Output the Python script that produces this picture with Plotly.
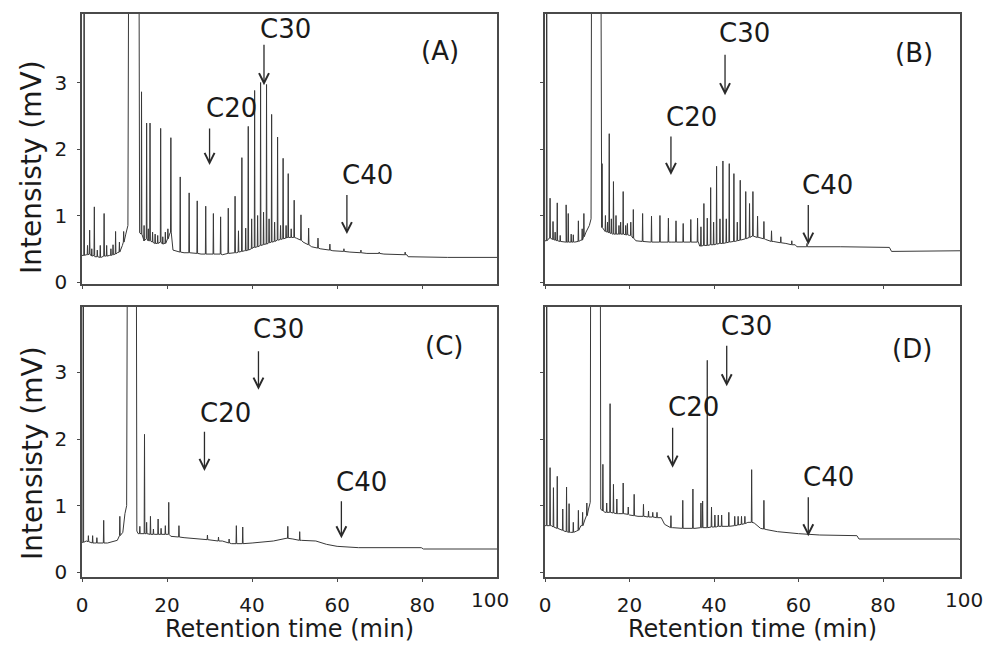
import plotly.graph_objects as go

# ---------------- data ----------------
# Panel A
A_base_t = [0.0, 1.0, 3.0, 4.5, 6.5, 8.3, 9.5, 10.3, 10.8, 11.1, 13.3, 13.55, 14.5, 17.0, 19.3, 20.6, 21.4, 24.0, 28.0, 33.0, 36.4, 38.2, 40.2, 43.0, 46.2, 48.2, 50.4, 52.0, 54.0, 56.0, 59.0, 63.0, 67.0, 71.0, 76.4, 76.7, 86.0, 98.5]
A_base_v = [0.40, 0.41, 0.38, 0.37, 0.40, 0.44, 0.55, 0.72, 0.85, 8.0, 8.0, 0.74, 0.64, 0.58, 0.58, 0.72, 0.48, 0.44, 0.42, 0.41, 0.44, 0.47, 0.52, 0.57, 0.63, 0.67, 0.66, 0.60, 0.53, 0.50, 0.47, 0.45, 0.43, 0.42, 0.41, 0.38, 0.37, 0.37]
A_peak_t = [0.5, 1.3, 1.8, 2.3, 2.9, 3.6, 4.3, 5.2, 5.8, 6.8, 7.3, 7.9, 8.8, 9.8,
            14.0, 14.6, 15.2, 15.6, 16.0, 16.6, 17.2, 17.8, 18.5, 19.0, 19.6, 20.2, 20.9,
            23.1, 25.2, 27.1, 29.1, 30.9, 32.6, 34.4, 36.0, 36.8, 37.6, 38.5, 39.1, 39.9,
            40.6, 41.3, 42.0, 42.7, 43.4, 44.0, 44.6, 45.3, 46.0, 46.7, 47.3, 48.0, 48.5,
            49.2, 49.9, 51.5, 53.3, 55.5, 58.3, 61.6, 65.6, 69.9, 76.0]
A_peak_top = [8.0, 0.55, 0.78, 0.50, 1.13, 0.48, 0.55, 1.03, 0.55, 0.50, 0.56, 0.76, 0.60, 0.76,
              2.86, 0.85, 2.39, 0.80, 2.39, 0.75, 0.72, 0.70, 2.31, 0.68, 0.75, 0.80, 2.17,
              1.58, 1.34, 1.22, 1.14, 1.03, 0.98, 1.11, 1.29, 0.77, 1.87, 0.81, 2.34, 0.95,
              2.88, 1.00, 3.00, 1.05, 2.97, 0.95, 2.52, 0.90, 2.18, 0.85, 1.86, 0.85, 1.63,
              0.80, 1.23, 1.01, 0.81, 0.66, 0.57, 0.50, 0.48, 0.45, 0.45]
A_peak_foot = [0.40, 0.41, 0.42, 0.39, 0.40, 0.38, 0.37, 0.39, 0.39, 0.40, 0.41, 0.42, 0.45, 0.60,
               0.72, 0.62, 0.65, 0.62, 0.62, 0.60, 0.58, 0.58, 0.60, 0.57, 0.58, 0.65, 0.75,
               0.45, 0.44, 0.43, 0.42, 0.42, 0.42, 0.43, 0.44, 0.45, 0.46, 0.47, 0.48, 0.50,
               0.52, 0.53, 0.55, 0.56, 0.57, 0.59, 0.60, 0.61, 0.63, 0.64, 0.65, 0.66, 0.67,
               0.67, 0.67, 0.63, 0.56, 0.51, 0.48, 0.46, 0.44, 0.43, 0.41]

# Panel B
B_base_t = [0.0, 1.0, 3.0, 5.0, 7.0, 8.5, 9.7, 10.5, 10.9, 11.1, 13.1, 13.3, 14.0, 16.0, 18.0, 20.0, 21.5, 25.0, 30.0, 36.3, 36.6, 40.0, 45.0, 49.0, 50.6, 52.2, 54.0, 57.0, 59.2, 59.6, 70.0, 81.5, 82.0, 98.5]
B_base_v = [0.62, 0.66, 0.62, 0.60, 0.60, 0.63, 0.75, 0.85, 0.95, 8.0, 8.0, 0.85, 0.78, 0.72, 0.72, 0.70, 0.62, 0.60, 0.60, 0.60, 0.54, 0.56, 0.61, 0.69, 0.67, 0.64, 0.61, 0.58, 0.56, 0.53, 0.53, 0.52, 0.46, 0.47]
B_peak_t = [0.4, 1.2, 1.9, 2.4, 2.9, 3.6, 5.0, 5.5, 6.2, 6.7, 7.9, 8.8, 9.2,
            13.5, 14.3, 14.8, 15.2, 15.7, 16.2, 16.8, 17.5, 17.9, 18.5, 19.1, 19.5, 20.3, 20.9,
            23.1, 25.2, 27.2, 29.2, 31.0, 32.7, 34.5, 36.1, 36.9, 37.6, 38.4, 39.2, 39.9,
            40.6, 41.4, 42.1, 42.9, 43.6, 44.7, 45.5, 46.2, 47.5, 48.4, 49.2, 50.3, 51.8,
            53.6, 55.8, 58.4, 62.0]
B_peak_top = [8.0, 1.26, 0.91, 0.75, 1.19, 0.70, 1.16, 1.03, 0.72, 0.71, 0.92, 0.80, 1.03,
              1.78, 1.00, 0.90, 2.23, 0.95, 1.51, 1.00, 0.85, 0.90, 1.36, 0.85, 0.88, 0.90, 1.09,
              1.03, 0.99, 1.00, 0.96, 0.92, 0.88, 0.94, 0.96, 0.83, 1.18, 0.96, 1.42, 0.90,
              1.74, 0.95, 1.82, 0.95, 1.78, 1.63, 0.90, 1.53, 1.36, 1.18, 1.36, 0.99, 0.91,
              0.77, 0.68, 0.62, 0.58]
B_peak_foot = [0.62, 0.66, 0.64, 0.63, 0.62, 0.61, 0.60, 0.60, 0.60, 0.60, 0.61, 0.63, 0.68,
               0.82, 0.76, 0.75, 0.74, 0.73, 0.72, 0.72, 0.72, 0.72, 0.72, 0.71, 0.71, 0.70, 0.66,
               0.61, 0.60, 0.60, 0.60, 0.60, 0.60, 0.60, 0.60, 0.54, 0.55, 0.55, 0.56, 0.56,
               0.57, 0.58, 0.58, 0.59, 0.60, 0.61, 0.62, 0.63, 0.65, 0.67, 0.69, 0.67, 0.65,
               0.61, 0.59, 0.56, 0.53]

# Panel C
C_base_t = [0.0, 1.0, 3.0, 6.0, 8.3, 9.6, 10.1, 10.5, 10.8, 12.7, 12.9, 13.2, 17.0, 20.0, 20.9, 24.0, 28.0, 33.0, 35.2, 40.0, 45.0, 48.0, 49.6, 51.6, 55.0, 57.5, 60.0, 65.0, 79.8, 80.3, 98.5]
C_base_v = [0.45, 0.47, 0.44, 0.44, 0.48, 0.60, 0.88, 1.00, 8.0, 8.0, 0.62, 0.58, 0.57, 0.57, 0.54, 0.52, 0.50, 0.47, 0.43, 0.44, 0.47, 0.51, 0.50, 0.48, 0.47, 0.42, 0.39, 0.37, 0.37, 0.35, 0.35]
C_peak_t = [0.3, 1.5, 2.5, 3.5, 5.1, 8.9, 13.6, 14.7, 15.2, 16.1, 16.8, 17.9, 18.6, 19.6, 20.4,
            22.8, 29.5, 32.1, 34.6, 36.3, 37.8, 48.4, 51.2]
C_peak_top = [8.0, 0.55, 0.55, 0.52, 0.78, 0.84, 0.69, 2.07, 0.75, 0.84, 0.65, 0.80, 0.66, 0.70, 1.05,
              0.70, 0.56, 0.53, 0.50, 0.70, 0.68, 0.69, 0.61]
C_peak_foot = [0.45, 0.46, 0.44, 0.44, 0.44, 0.55, 0.58, 0.58, 0.58, 0.57, 0.57, 0.57, 0.57, 0.57, 0.57,
               0.53, 0.49, 0.47, 0.44, 0.43, 0.43, 0.51, 0.48]

# Panel D
D_base_t = [0.0, 1.5, 3.0, 4.5, 6.0, 7.5, 8.5, 9.5, 10.3, 10.7, 10.9, 13.0, 13.2, 14.2, 17.4, 20.0, 22.0, 27.5, 28.3, 30.2, 35.5, 40.5, 45.0, 48.0, 49.5, 51.0, 52.5, 55.0, 60.0, 65.0, 73.8, 74.3, 98.0, 98.5]
D_base_v = [0.70, 0.70, 0.66, 0.62, 0.60, 0.62, 0.70, 0.80, 0.95, 1.05, 8.0, 8.0, 0.95, 0.90, 0.88, 0.86, 0.84, 0.82, 0.72, 0.67, 0.66, 0.68, 0.70, 0.75, 0.74, 0.66, 0.64, 0.61, 0.58, 0.56, 0.55, 0.50, 0.50, 0.47]
D_peak_t = [0.4, 1.2, 2.0, 2.9, 4.2, 5.1, 5.7, 6.7, 7.9, 8.9, 9.9,
            13.7, 14.6, 15.4, 16.2, 17.0, 18.5, 19.7, 21.1, 23.3, 24.5, 25.5, 26.5,
            29.8, 32.6, 35.0, 36.9, 37.3, 38.4, 39.4, 40.2, 41.0, 41.8, 43.5, 44.9, 45.7,
            46.5, 47.3, 48.9, 51.8]
D_peak_top = [8.0, 1.57, 1.27, 1.44, 0.95, 1.28, 1.03, 0.75, 0.93, 0.90, 1.04,
              1.62, 1.04, 2.53, 1.32, 1.10, 1.34, 0.98, 1.17, 1.02, 0.92, 0.90, 0.90,
              0.85, 1.08, 1.25, 1.04, 1.07, 3.18, 0.98, 0.86, 0.86, 0.86, 0.90, 0.84, 0.84,
              0.84, 0.84, 1.54, 1.08]
D_peak_foot = [0.70, 0.70, 0.68, 0.66, 0.63, 0.61, 0.60, 0.60, 0.63, 0.70, 0.85,
               0.92, 0.90, 0.90, 0.89, 0.88, 0.88, 0.87, 0.85, 0.84, 0.83, 0.83, 0.82,
               0.67, 0.66, 0.66, 0.67, 0.67, 0.67, 0.68, 0.68, 0.69, 0.69, 0.69, 0.70, 0.71,
               0.72, 0.73, 0.75, 0.65]

panel_letters = ["(A)", "(B)", "(C)", "(D)"]
marker_labels = ["C20", "C30", "C40"]
x_tick_vals = [0, 20, 40, 60, 80, 100]
y_tick_vals = [0, 1, 2, 3]
x_title = "Retention time (min)"
y_title = "Intensisty (mV)"

# ---------------- layout / style parameters ----------------
FONT = "DejaVu Sans"
LINE = "#383838"
FRAME = "#4a4a4a"
TXT = "#1a1a1a"
PEAK_HALF_WIDTH = 0.08

# label / arrow placement per panel: (text x, text y) and (arrow x, tail y, tip y)
label_pos = {
    "A": [(35.1, 2.61), (47.9, 3.81), (67.1, 1.61), (84.2, 3.48)],
    "B": [(34.7, 2.48), (47.3, 3.74), (66.8, 1.46), (87.2, 3.44)],
    "C": [(33.8, 2.39), (46.3, 3.65), (65.7, 1.35), (85.1, 3.39)],
    "D": [(35.1, 2.48), (47.7, 3.70), (67.1, 1.43), (86.8, 3.35)],
}
arrow_pos = {
    "A": [(30.0, 2.33, 1.76), (42.8, 3.59, 2.96), (62.3, 1.33, 0.72)],
    "B": [(29.8, 2.21, 1.61), (42.6, 3.44, 2.81), (62.3, 1.18, 0.56)],
    "C": [(28.8, 2.13, 1.52), (41.5, 3.34, 2.74), (61.0, 1.09, 0.51)],
    "D": [(30.2, 2.19, 1.57), (43.0, 3.42, 2.79), (62.3, 1.15, 0.54)],
}


def chromatogram(base_t, base_v, pk_t, pk_top, pk_foot):
    pts = list(zip(base_t, base_v))
    for t, top, foot in zip(pk_t, pk_top, pk_foot):
        pts += [(t - PEAK_HALF_WIDTH, foot), (t, top), (t + PEAK_HALF_WIDTH, foot)]
    pts.sort(key=lambda p: p[0])
    return [p[0] for p in pts], [p[1] for p in pts]


panels = {
    "A": (A_base_t, A_base_v, A_peak_t, A_peak_top, A_peak_foot),
    "B": (B_base_t, B_base_v, B_peak_t, B_peak_top, B_peak_foot),
    "C": (C_base_t, C_base_v, C_peak_t, C_peak_top, C_peak_foot),
    "D": (D_base_t, D_base_v, D_peak_t, D_peak_top, D_peak_foot),
}
axis_ids = {"A": ("x", "y"), "B": ("x2", "y2"), "C": ("x3", "y3"), "D": ("x4", "y4")}

W, H = 989, 645
col_px = [(82, 497), (545, 960)]
row_px = [(14, 284), (307, 577)]
x_ranges = [[0, 97.6], [0, 98.2]]
y_ranges = [[-0.03, 4.03], [-0.07, 3.98]]

fig = go.Figure()
for key, (bt, bv, pt, ptop, pf) in panels.items():
    xs, ys = chromatogram(bt, bv, pt, ptop, pf)
    xa, ya = axis_ids[key]
    fig.add_trace(go.Scatter(x=xs, y=ys, mode="lines", xaxis=xa, yaxis=ya,
                             line=dict(color=LINE, width=1), showlegend=False,
                             hoverinfo="skip"))

layout = dict(width=W, height=H, margin=dict(l=0, r=0, t=0, b=0, autoexpand=False),
              paper_bgcolor="white", plot_bgcolor="white",
              font=dict(family=FONT, color=TXT), showlegend=False)

positions = {"A": (0, 0), "B": (1, 0), "C": (0, 1), "D": (1, 1)}
for key, (ci, ri) in positions.items():
    xa, ya = axis_ids[key]
    xname = "xaxis" if xa == "x" else "xaxis" + xa[1:]
    yname = "yaxis" if ya == "y" else "yaxis" + ya[1:]
    x0, x1 = col_px[ci]
    y0, y1 = row_px[ri]
    layout[xname] = dict(domain=[x0 / W, x1 / W], range=x_ranges[ci], anchor=ya,
                         tickvals=x_tick_vals, ticks="outside", ticklen=3, tickcolor=FRAME,
                         showticklabels=(ri == 1), tickfont=dict(size=20, family=FONT, color=TXT),
                         ticklabelstandoff=6, automargin=False,
                         showline=True, mirror=True, linecolor=FRAME, linewidth=1.5,
                         showgrid=False, zeroline=False, fixedrange=True)
    layout[yname] = dict(domain=[1 - y1 / H, 1 - y0 / H], range=y_ranges[ri], anchor=xa,
                         tickvals=y_tick_vals, ticks="outside", ticklen=3, tickcolor=FRAME,
                         showticklabels=(ci == 0), tickfont=dict(size=20, family=FONT, color=TXT),
                         ticklabelstandoff=6, automargin=False,
                         showline=True, mirror=True, linecolor=FRAME, linewidth=1.5,
                         showgrid=False, zeroline=False, fixedrange=True)

fig.update_layout(**layout)

annotations = []
for idx, key in enumerate(["A", "B", "C", "D"]):
    xa, ya = axis_ids[key]
    texts = marker_labels + [panel_letters[idx]]
    for txt, (tx, ty) in zip(texts, label_pos[key]):
        annotations.append(dict(x=tx, y=ty, xref=xa, yref=ya, text=txt, showarrow=False,
                                xanchor="center", yanchor="middle",
                                font=dict(size=26, family=FONT, color=TXT)))
    for (axv, tail, tip) in arrow_pos[key]:
        annotations.append(dict(x=axv, y=tip, xref=xa, yref=ya, ax=axv, ay=tail,
                                axref=xa, ayref=ya, text="", showarrow=True,
                                arrowhead=5, arrowsize=1.5, arrowwidth=1.3,
                                arrowcolor="#2a2a2a", standoff=0, startstandoff=0))

# last x tick label ("100") sits just past the end of the drawn range
for xa, ya, dom_x in [("x3", "y3", 1.0 - 7 / 415), ("x4", "y4", 1.0 + 4 / 415)]:
    annotations.append(dict(x=dom_x, y=-9 / 270, xref=xa + " domain", yref=ya + " domain",
                            text=str(x_tick_vals[-1]), showarrow=False, xanchor="center", yanchor="top",
                            font=dict(size=20, family=FONT, color=TXT)))

# axis titles
for cx in [(col_px[0][0] + col_px[0][1]) / 2, (col_px[1][0] + col_px[1][1]) / 2]:
    annotations.append(dict(x=cx / W, y=1 - 629 / H, xref="paper", yref="paper", text=x_title,
                            showarrow=False, xanchor="center", yanchor="middle",
                            font=dict(size=24, family=FONT, color=TXT)))
for cy in [167, 453]:
    annotations.append(dict(x=32 / W, y=1 - cy / H, xref="paper", yref="paper", text=y_title,
                            textangle=-90, showarrow=False, xanchor="center", yanchor="middle",
                            font=dict(size=28, family=FONT, color=TXT)))

fig.update_layout(annotations=annotations)
fig.write_html("out.html", config={"displayModeBar": False},
               post_script="document.body.style.margin='0px';document.body.style.padding='0px';")
